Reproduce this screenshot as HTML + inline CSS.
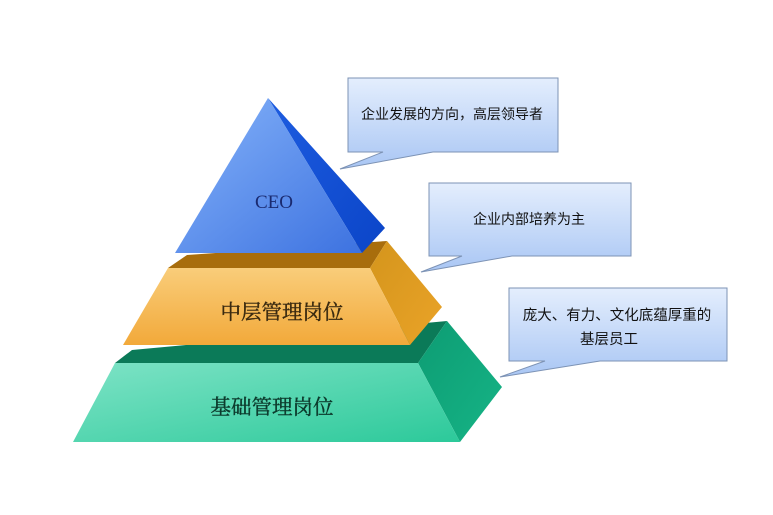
<!DOCTYPE html>
<html><head><meta charset="utf-8"><style>
html,body{margin:0;padding:0;background:#fff;}
svg text{font-family:"Liberation Sans","Noto Sans CJK SC",sans-serif;}
</style></head><body>
<svg width="773" height="510" viewBox="0 0 773 510" xmlns="http://www.w3.org/2000/svg">
<defs>
<linearGradient id="blue" x1="0" y1="0" x2="1" y2="1"><stop offset="0" stop-color="#86b4fa"/><stop offset="1" stop-color="#3d72e0"/></linearGradient>
<linearGradient id="blueS" x1="0" y1="0" x2="1" y2="1"><stop offset="0" stop-color="#1d5ce0"/><stop offset="1" stop-color="#0b45c8"/></linearGradient>
<linearGradient id="org" x1="0" y1="0" x2="0" y2="1"><stop offset="0" stop-color="#f9cd7a"/><stop offset="1" stop-color="#f2a93a"/></linearGradient>
<linearGradient id="orgS" x1="0" y1="0" x2="1" y2="1"><stop offset="0" stop-color="#d4951c"/><stop offset="1" stop-color="#eaa328"/></linearGradient>
<linearGradient id="grn" x1="0" y1="0" x2="1" y2="1"><stop offset="0" stop-color="#7ee3c6"/><stop offset="1" stop-color="#2cc99a"/></linearGradient>
<linearGradient id="grnS" x1="0" y1="0" x2="1" y2="1"><stop offset="0" stop-color="#0d9c73"/><stop offset="1" stop-color="#16b486"/></linearGradient>
<linearGradient id="box" x1="0" y1="0" x2="0" y2="1"><stop offset="0" stop-color="#e4eefd"/><stop offset="1" stop-color="#a9c6f4"/></linearGradient>
</defs>
<polygon points="132,350 447,321 418,363 115,363" fill="#0b7a58"/>
<polygon points="418,363 447,321 502,387 460,442" fill="url(#grnS)"/>
<polygon points="115,363 418,363 460,442 73,442" fill="url(#grn)"/>
<polygon points="187,255 387,241 370,268 168,268" fill="#a86d0c"/>
<polygon points="370,268 387,241 442,307 410,345" fill="url(#orgS)"/>
<polygon points="168,268 370,268 410,345 123,345" fill="url(#org)"/>
<polygon points="268,98 385,228 362,253" fill="url(#blueS)"/>
<polygon points="268,98 362,253 175,253" fill="url(#blue)"/>
<text x="274" y="208" font-size="19" fill="#1a2a70" text-anchor="middle" style="font-family:'Liberation Serif',serif">CEO</text>
<text x="282" y="319" font-size="20.5" fill="#3a2a10" stroke="#3a2a10" stroke-width="0.4" text-anchor="middle" style="font-family:'Noto Serif CJK SC',serif">中层管理岗位</text>
<text x="272" y="414" font-size="20.5" fill="#0c3a2c" stroke="#0c3a2c" stroke-width="0.4" text-anchor="middle" style="font-family:'Noto Serif CJK SC',serif">基础管理岗位</text>
<path d="M348,78 H558 V152 H433 L340,169 L383,152 H348 Z" fill="url(#box)" stroke="#7d93b5" stroke-width="1"/>
<text x="452" y="119" font-size="14" fill="#111" text-anchor="middle">企业发展的方向，高层领导者</text>
<path d="M429,183 H631 V256 H512 L421,272 L462,256 H429 Z" fill="url(#box)" stroke="#7d93b5" stroke-width="1"/>
<text x="529" y="224" font-size="14" fill="#111" text-anchor="middle">企业内部培养为主</text>
<path d="M509,288 H727 V361 H600 L500,377 L545,361 H509 Z" fill="url(#box)" stroke="#7d93b5" stroke-width="1"/>
<text x="617" y="320" font-size="14.5" fill="#111" text-anchor="middle">庞大、有力、文化底蕴厚重的</text>
<text x="609" y="344" font-size="14.5" fill="#111" text-anchor="middle">基层员工</text>
</svg>
</body></html>
